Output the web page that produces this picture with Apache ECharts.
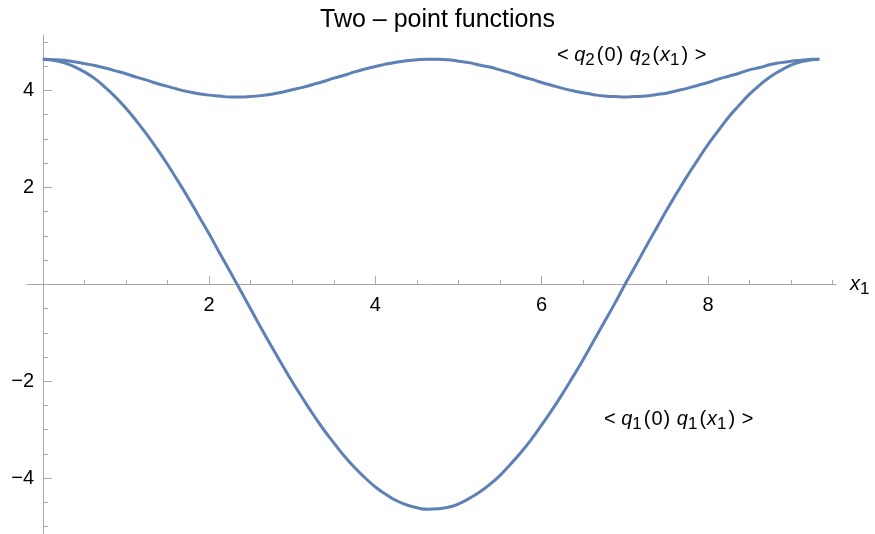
<!DOCTYPE html>
<html>
<head>
<meta charset="utf-8">
<script src="https://cdn.jsdelivr.net/npm/echarts@6/dist/echarts.min.js"></script>
<style>
  html, body { margin: 0; padding: 0; background: #fff; }
  #chart { width: 875px; height: 534px; }
</style>
</head>
<body>
<div id="chart"></div>
<script>
// values
const xs = [0, 0.125, 0.25, 0.375, 0.5, 0.625, 0.75, 0.875, 1, 1.125, 1.25, 1.375, 1.5, 1.625, 1.75, 1.875,
  2, 2.125, 2.25, 2.375, 2.5, 2.625, 2.75, 2.875, 3, 3.125, 3.25, 3.375, 3.5, 3.625, 3.75, 3.875,
  4, 4.125, 4.25, 4.375, 4.5, 4.625, 4.75, 4.875, 5, 5.125, 5.25, 5.375, 5.5, 5.625, 5.75, 5.875,
  6, 6.125, 6.25, 6.375, 6.5, 6.625, 6.75, 6.875, 7, 7.125, 7.25, 7.375, 7.5, 7.625, 7.75, 7.875,
  8, 8.125, 8.25, 8.375, 8.5, 8.625, 8.75, 8.875, 9, 9.125, 9.25, 9.34];
const q1 = [4.64, 4.62, 4.57, 4.49, 4.38, 4.24, 4.06, 3.86, 3.63, 3.37, 3.09, 2.79, 2.47, 2.13, 1.78, 1.41,
  1.04, 0.65, 0.27, -0.12, -0.51, -0.90, -1.28, -1.65, -2.01, -2.35, -2.68, -2.99, -3.27, -3.54, -3.78, -3.99,
  -4.18, -4.33, -4.46, -4.55, -4.61, -4.64, -4.63, -4.60, -4.53, -4.42, -4.29, -4.13, -3.94, -3.71, -3.47, -3.20,
  -2.90, -2.59, -2.26, -1.91, -1.55, -1.17, -0.79, -0.41, -0.01, 0.37, 0.76, 1.14, 1.52, 1.88, 2.23, 2.56,
  2.88, 3.17, 3.45, 3.69, 3.92, 4.11, 4.28, 4.41, 4.52, 4.59, 4.63, 4.64];
const q2 = [4.64, 4.63, 4.62, 4.59, 4.55, 4.51, 4.46, 4.40, 4.34, 4.27, 4.21, 4.14, 4.08, 4.02, 3.97, 3.93,
  3.90, 3.88, 3.86, 3.86, 3.87, 3.89, 3.92, 3.96, 4.01, 4.06, 4.12, 4.18, 4.25, 4.31, 4.38, 4.44,
  4.49, 4.54, 4.58, 4.61, 4.63, 4.64, 4.64, 4.63, 4.60, 4.57, 4.52, 4.48, 4.42, 4.36, 4.29, 4.23,
  4.16, 4.10, 4.04, 3.99, 3.95, 3.91, 3.88, 3.87, 3.86, 3.87, 3.88, 3.91, 3.94, 3.99, 4.04, 4.10,
  4.16, 4.23, 4.29, 4.35, 4.42, 4.47, 4.53, 4.57, 4.60, 4.62, 4.64, 4.64];
const xMajor = [2, 4, 6, 8];
const xMinor = [0.5, 1, 1.5, 2.5, 3, 3.5, 4.5, 5, 5.5, 6.5, 7, 7.5, 8.5, 9, 9.5];
const yMajor = [-4, -2, 2, 4];
const yMinor = [-5, -4.5, -3.5, -3, -2.5, -1.5, -1, -0.5, 0.5, 1, 1.5, 2.5, 3, 3.5, 4.5, 5];

const font = 'Liberation Sans, Arial, sans-serif';
const axisGray = '#a8a8a8';
const lineBlue = '#5e81b5';

const pair = arr => xs.map((x, i) => [x, arr[i]]);
const minus = v => String(v).replace('-', '\u2212');

// rich styles for the math labels
const rich = {
  n: { fontFamily: font, fontSize: 20, color: '#000', lineHeight: 28 },
  p: { fontFamily: font, fontSize: 20, color: '#000', lineHeight: 28, padding: [0, 1, 0, 1] },
  i: { fontFamily: font, fontSize: 20, fontStyle: 'italic', color: '#000', lineHeight: 28 },
  s: { fontFamily: font, fontSize: 17, color: '#000', verticalAlign: 'bottom', lineHeight: 28, padding: [0, 1, 0, 0] }
};
const mathLabel = k =>
  '{n|< }{i|q}{s|' + k + '}{p|(}{n|0}{p|)}{n| }{i|q}{s|' + k + '}{p|(}{i|x}{s|1}{p|)}{n| >}';

const chart = echarts.init(document.getElementById('chart'));
chart.setOption({
  animation: false,
  title: {
    text: 'Two \u2013 point functions',
    left: 'center',
    top: 3,
    textStyle: { fontFamily: font, fontSize: 25, fontWeight: 'normal', color: '#000' }
  },
  grid: { left: 27, right: 39, top: 35, bottom: 0, outerBoundsMode: 'none' },
  xAxis: [
    {
      type: 'value', min: -0.19, max: 9.54, position: 'bottom', offset: -250,
      axisLine: { onZero: false, lineStyle: { color: axisGray, width: 1 } },
      axisTick: { inside: true, length: 8, customValues: xMajor, lineStyle: { color: axisGray } },
      axisLabel: { customValues: xMajor, margin: 11, color: '#000', fontFamily: font, fontSize: 20 },
      splitLine: { show: false },
      name: '{i|x}{s|1}',
      nameLocation: 'end',
      nameGap: 14,
      nameTextStyle: { rich: rich }
    },
    {
      type: 'value', min: -0.19, max: 9.54, position: 'bottom', offset: -250,
      axisLine: { show: false, onZero: false },
      axisTick: { inside: true, length: 4, customValues: xMinor, lineStyle: { color: axisGray } },
      axisLabel: { show: false },
      splitLine: { show: false }
    }
  ],
  yAxis: [
    {
      type: 'value', min: -5.15, max: 5.14, position: 'left', offset: -16,
      axisLine: { onZero: false, lineStyle: { color: axisGray, width: 1 } },
      axisTick: { inside: true, length: 9, customValues: yMajor, lineStyle: { color: axisGray } },
      axisLabel: { customValues: yMajor, margin: 9, color: '#000', fontFamily: font, fontSize: 20, formatter: minus },
      splitLine: { show: false }
    },
    {
      type: 'value', min: -5.15, max: 5.14, position: 'left', offset: -16,
      axisLine: { show: false, onZero: false },
      axisTick: { inside: true, length: 5, customValues: yMinor, lineStyle: { color: axisGray } },
      axisLabel: { show: false },
      splitLine: { show: false }
    }
  ],
  series: [
    {
      name: 'q1', type: 'line', smooth: true, showSymbol: false,
      xAxisIndex: 0, yAxisIndex: 0,
      lineStyle: { color: lineBlue, width: 3 },
      data: pair(q1)
    },
    {
      name: 'q2', type: 'line', smooth: true, showSymbol: false,
      xAxisIndex: 0, yAxisIndex: 0,
      lineStyle: { color: lineBlue, width: 3 },
      data: pair(q2)
    }
  ],
  graphic: [
    { type: 'text', left: 557, top: 45, style: { text: mathLabel(2), rich: rich } },
    { type: 'text', left: 604, top: 409, style: { text: mathLabel(1), rich: rich } }
  ]
});
</script>
</body>
</html>
